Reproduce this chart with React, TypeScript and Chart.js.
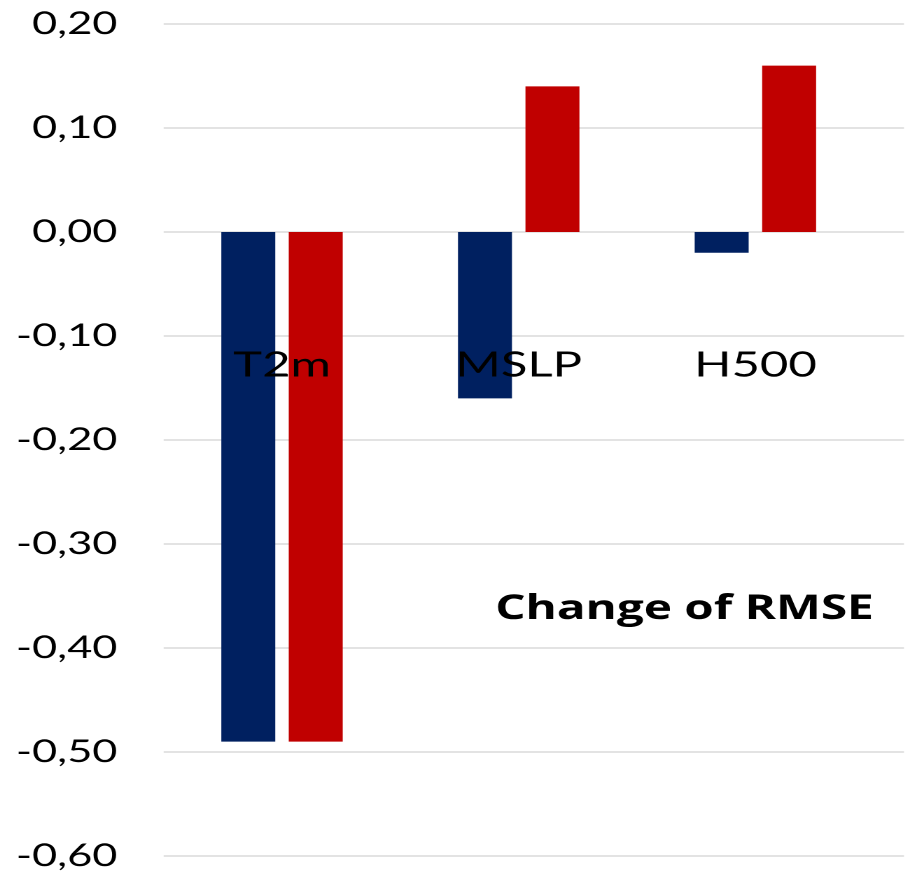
import React, { useEffect, useRef } from "react";
import { Chart, registerables } from "chart.js";

Chart.register(...registerables);

// ---- data ----
const categories = ["T2m", "MSLP", "H500"];
const seriesOneValues = [-0.49, -0.16, -0.02];
const seriesTwoValues = [-0.49, 0.14, 0.16];
const seriesNames = ["Series 1", "Series 2"];
const yMin = -0.6;
const yMax = 0.2;
const yStep = 0.1;
const chartTitle = "Change of RMSE";
const titleValue = -0.372;

// ---- presentation ----
const PAGE_W = 910;
const PAGE_H = 880;
const STRETCH = 1.4; // the reference is horizontally stretched
const LOGICAL_W = Math.round(PAGE_W / STRETCH);
const BLUE = "#002060";
const RED = "#C00000";
const GRID = "#d9d9d9";
const FONT = "Lato, 'Open Sans', sans-serif";
const TITLE_FONT = "'Open Sans', Lato, sans-serif";

const fmt = (v: number) => {
  const n = Math.abs(v) < 1e-9 ? 0 : v;
  return n.toFixed(2).replace(".", ",");
};

const extendedGrid = {
  id: "extendedGrid",
  beforeDatasetsDraw(chart: any) {
    const { ctx, chartArea, scales } = chart;
    const y = scales.y;
    const ext = 21.6;
    ctx.save();
    ctx.strokeStyle = GRID;
    ctx.lineWidth = 1.5;
    y.ticks.forEach((t: any) => {
      const py = y.getPixelForValue(t.value);
      ctx.beginPath();
      ctx.moveTo(chartArea.left, py);
      ctx.lineTo(chartArea.right + ext, py);
      ctx.stroke();
    });
    ctx.restore();
  },
};

const innerTitle = {
  id: "innerTitle",
  afterDatasetsDraw(chart: any) {
    const { ctx, chartArea, scales } = chart;
    ctx.save();
    ctx.font = `bold 34px ${TITLE_FONT}`;
    ctx.fillStyle = "#000";
    ctx.textAlign = "right";
    ctx.textBaseline = "alphabetic";
    ctx.fillText(chartTitle, chartArea.right, scales.y.getPixelForValue(titleValue));
    ctx.restore();
  },
};

export default function App() {
  const ref = useRef<HTMLCanvasElement | null>(null);

  useEffect(() => {
    if (!ref.current) return;
    const chart = new Chart(ref.current, {
      type: "bar",
      data: {
        labels: categories,
        datasets: [
          { label: seriesNames[0], data: seriesOneValues, backgroundColor: BLUE, borderWidth: 0 },
          { label: seriesNames[1], data: seriesTwoValues, backgroundColor: RED, borderWidth: 0 },
        ],
      },
      options: {
        animation: false,
        responsive: false,
        devicePixelRatio: 2,
        layout: { padding: { top: 24, bottom: 24, left: 0, right: 25.9 } },
        datasets: { bar: { barPercentage: 0.8, categoryPercentage: 0.57 } },
        plugins: { legend: { display: false }, tooltip: { enabled: false }, title: { display: false } },
        scales: {
          x: {
            type: "category",
            position: { y: 0 } as any,
            grid: { display: false, drawTicks: false },
            border: { display: false },
            afterFit: (s: any) => { s.paddingLeft = 0; s.paddingRight = 0; s.paddingTop = 0; s.paddingBottom = 0; },
            ticks: { z: 1, color: "#000", font: { family: FONT, size: 35 }, padding: 112, maxRotation: 0, autoSkip: false },
          },
          y: {
            min: yMin,
            max: yMax,
            grid: { display: false, drawTicks: false },
            border: { display: false },
            afterFit: (s: any) => { s.width = 116.9; s.paddingTop = 0; s.paddingBottom = 0; s.paddingLeft = 0; s.paddingRight = 0; },
            ticks: {
              stepSize: yStep,
              color: "#000",
              font: { family: FONT, size: 31 },
              padding: 33,
              callback: (v: any) => fmt(Number(v)),
            },
          },
        },
      },
      plugins: [extendedGrid, innerTitle],
    });
    return () => chart.destroy();
  }, []);

  return (
    <div style={{ position: "fixed", left: 0, top: 0, width: PAGE_W, height: PAGE_H, background: "#fff" }}>
      <canvas
        ref={ref}
        width={LOGICAL_W}
        height={PAGE_H}
        style={{ width: PAGE_W + "px", height: PAGE_H + "px", display: "block" }}
      />
    </div>
  );
}
